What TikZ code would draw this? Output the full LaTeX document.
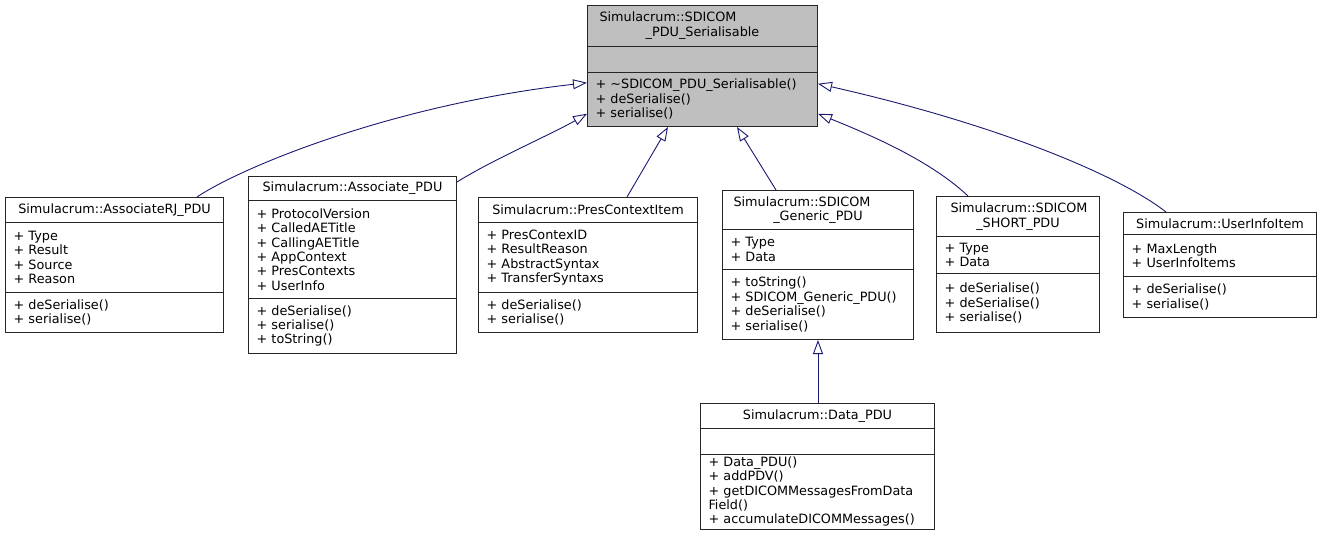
\documentclass[tikz,border=0pt]{standalone}
\usepackage{fontspec}
\setmainfont{DejaVu Sans}
\usepackage{tikz}
\usetikzlibrary{arrows.meta,calc}

\definecolor{edgeblue}{HTML}{191970}
\definecolor{basegray}{HTML}{BFBFBF}
\newcommand{\classfont}{\fontsize{12.8}{14.4}\selectfont\hyphenpenalty=10000\exhyphenpenalty=10000}

\tikzset{
  part/.style={draw=black!85, line width=1pt, inner xsep=8pt, inner ysep=0pt,
    anchor=north west, align=left, font=\classfont},
  ttl/.style={part, align=center},
  inh/.style={draw=edgeblue, line width=0.9pt,
    -{Triangle[open, length=14pt, width=10pt]}},
}

\begin{document}
\begin{tikzpicture}[x=1pt, y=-1pt]
        \useasboundingbox (0,0) rectangle (1322,544);
        % base class
        \node[ttl, fill=basegray, text width=214pt, minimum height=40.5pt] (baset) at (587,5)
          {\makebox[\hsize][l]{\hspace{4pt}Simulacrum::SDICOM}\\ \_PDU\_Serialisable};
        \node[part, fill=basegray, text width=214pt, minimum height=26pt] (basea) at (587,45.5) {};
        \node[part, fill=basegray, text width=214pt, minimum height=54.5pt] (basem) at (587,71.5)
          {+ \textasciitilde SDICOM\_PDU\_Serialisable()\\ + deSerialise()\\ + serialise()};

        % derived classes
        \node[ttl, text width=202pt, minimum height=25pt] (rjt) at (5,197) {Simulacrum::AssociateRJ\_PDU};
        \node[part, text width=202pt, minimum height=70pt] (rja) at (5,222)
          {+ Type\\ + Result\\ + Source\\ + Reason};
        \node[part, text width=202pt, minimum height=40pt] (rjm) at (5,292)
          {+ deSerialise()\\ + serialise()};

        \node[ttl, text width=192pt, minimum height=24pt] (asst) at (248,176) {Simulacrum::Associate\_PDU};
        \node[part, text width=192pt, minimum height=98pt] (assa) at (248,200)
          {+ ProtocolVersion\\ + CalledAETitle\\ + CallingAETitle\\ + AppContext\\ + PresContexts\\ + UserInfo};
        \node[part, text width=192pt, minimum height=55pt] (assm) at (248,298)
          {+ deSerialise()\\ + serialise()\\ + toString()};

        \node[ttl, text width=203pt, minimum height=25pt] (prest) at (478,197) {Simulacrum::PresContextItem};
        \node[part, text width=203pt, minimum height=70pt] (presa) at (478,222)
          {+ PresContexID\\ + ResultReason\\ + AbstractSyntax\\ + TransferSyntaxs};
        \node[part, text width=203pt, minimum height=40pt] (presm) at (478,292)
          {+ deSerialise()\\ + serialise()};

        \node[ttl, text width=175pt, minimum height=39pt] (gent) at (722,190)
          {\makebox[\hsize][l]{\hspace{3pt}Simulacrum::SDICOM}\\ \_Generic\_PDU};
        \node[part, text width=175pt, minimum height=40pt] (gena) at (722,229)
          {+ Type\\ + Data};
        \node[part, text width=175pt, minimum height=70pt] (genm) at (722,269)
          {+ toString()\\ + SDICOM\_Generic\_PDU()\\ + deSerialise()\\ + serialise()};

        \node[ttl, text width=147pt, minimum height=40pt] (shortt) at (936,196)
          {\makebox[\hsize][l]{\hspace{6pt}Simulacrum::SDICOM}\\ \_SHORT\_PDU};
        \node[part, text width=147pt, minimum height=37pt] (shorta) at (936,236)
          {+ Type\\ + Data};
        \node[part, text width=147pt, minimum height=59pt] (shortm) at (936,273)
          {+ deSerialise()\\ + deSerialise()\\ + serialise()};

        \node[ttl, text width=177pt, minimum height=22pt] (uinfot) at (1123,212) {Simulacrum::UserInfoItem};
        \node[part, text width=177pt, minimum height=42pt] (uinfoa) at (1123,234)
          {+ MaxLength\\ + UserInfoItems};
        \node[part, text width=177pt, minimum height=41pt] (uinfom) at (1123,276)
          {+ deSerialise()\\ + serialise()};

        \node[ttl, text width=218pt, minimum height=25pt] (datat) at (700,403) {Simulacrum::Data\_PDU};
        \node[part, text width=218pt, minimum height=25.5pt] (dataa) at (700,428) {};
        \node[part, text width=218pt, minimum height=75pt] (datam) at (700,453.5)
          {+ Data\_PDU()\\ + addPDV()\\ + getDICOMMessagesFromData\\ Field()\\ + accumulateDICOMMessages()};

        % inheritance
        \draw[inh] ($(rjt.north west)+(192,0)$) .. controls (240,168) and (390,105) .. ($(basem.west)+(0,-16.5)$);
        \draw[inh] ($(asst.north east)+(0,6)$) .. controls (492,160) and (552,134) .. ($(basem.west)+(0,14.5)$);
        \draw[inh] ($(prest.north west)+(149,0)$) -- ($(basem.south west)+(81,0)$);
        \draw[inh] ($(gent.north west)+(54,0)$) -- ($(basem.south west)+(150,0)$);
        \draw[inh] ($(shortt.north west)+(32,0)$) .. controls (930,160) and (868,134) .. ($(basem.east)+(0,14.5)$);
        \draw[inh] ($(uinfot.north west)+(43,0)$) .. controls (1120,176) and (1000,125) .. ($(basem.east)+(0,-15.5)$);
        \draw[inh] (datat.north -| genm.south) -- (genm.south);
\end{tikzpicture}
\end{document}
